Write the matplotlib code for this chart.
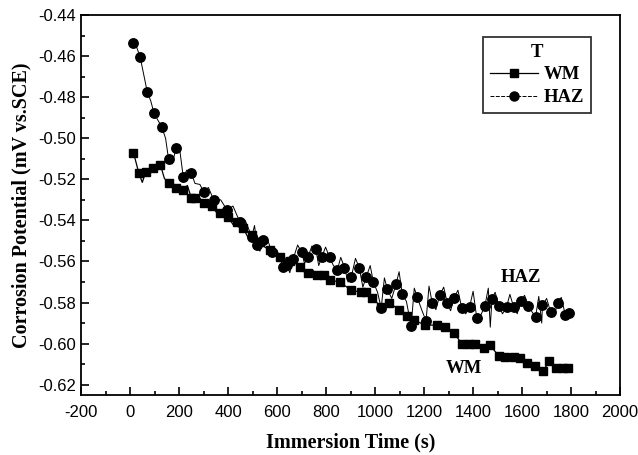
import matplotlib
matplotlib.use("Agg")
import matplotlib.pyplot as plt
from matplotlib.ticker import MultipleLocator, FormatStrFormatter

plt.rcParams["axes.unicode_minus"] = False

# WM (weld metal) readings, marked points
wm_t = [14, 36, 64, 95, 124, 157, 186, 218, 250, 267, 300, 335, 369, 401, 437, 462, 498,
        531, 571, 612, 652, 692, 726, 762, 790, 814, 855, 903, 944, 964, 989, 1025, 1058,
        1098, 1131, 1160, 1204, 1253, 1286, 1322, 1354, 1383, 1407, 1444, 1468, 1505, 1529,
        1565, 1590, 1618, 1651, 1686, 1711, 1739, 1767, 1788]
wm_e = [-0.507, -0.517, -0.5165, -0.5145, -0.513, -0.522, -0.524, -0.525, -0.529, -0.529,
        -0.5316, -0.533, -0.5365, -0.5384, -0.541, -0.5438, -0.547, -0.5505, -0.5545, -0.558,
        -0.560, -0.5627, -0.5657, -0.5666, -0.5665, -0.569, -0.570, -0.574, -0.575, -0.575,
        -0.578, -0.582, -0.580, -0.5837, -0.5866, -0.5886, -0.591, -0.591, -0.592, -0.5949,
        -0.600, -0.600, -0.600, -0.602, -0.6007, -0.606, -0.6066, -0.6066, -0.607, -0.6095,
        -0.611, -0.6133, -0.6085, -0.612, -0.612, -0.612]
# extra raw WM readings between marks
wm_raw_t = [50, 80, 110, 140, 172, 202, 234, 284, 318, 352, 385, 420, 450, 480, 515, 550,
            592, 632, 672, 710, 744]
wm_raw_e = [-0.5215, -0.5160, -0.5125, -0.5195, -0.5210, -0.5255, -0.5230, -0.5290, -0.5300,
            -0.5360, -0.5350, -0.5420, -0.5410, -0.5480, -0.5470, -0.5530, -0.5540, -0.5600,
            -0.5590, -0.5650, -0.5640]

# HAZ (heat affected zone) readings, marked points
haz_t = [11, 41, 70, 98, 129, 157, 188, 217, 250, 300, 341, 396, 449, 497, 518, 544, 579,
         624, 640, 665, 700, 726, 758, 782, 814, 846, 875, 903, 936, 964, 993, 1025, 1050,
         1086, 1111, 1147, 1172, 1208, 1233, 1264, 1294, 1322, 1354, 1386, 1415, 1448, 1477,
         1505, 1537, 1565, 1594, 1626, 1655, 1683, 1716, 1745, 1776, 1790]
haz_e = [-0.4536, -0.4603, -0.4773, -0.4879, -0.4944, -0.510, -0.5048, -0.5187, -0.517,
         -0.526, -0.530, -0.535, -0.541, -0.548, -0.552, -0.5495, -0.5555, -0.5627, -0.5617,
         -0.559, -0.5555, -0.558, -0.554, -0.558, -0.558, -0.564, -0.563, -0.5675, -0.5633,
         -0.5675, -0.570, -0.5827, -0.5735, -0.5708, -0.576, -0.5915, -0.5774, -0.589, -0.580,
         -0.5764, -0.580, -0.578, -0.5827, -0.582, -0.5876, -0.5817, -0.5783, -0.5817, -0.582,
         -0.582, -0.5793, -0.5817, -0.587, -0.5813, -0.5846, -0.580, -0.586, -0.585]
# extra raw HAZ readings (noise spikes) between marks
haz_raw_t = [25, 55, 85, 145, 172, 200, 232, 265, 285, 320, 370, 420, 470, 508, 530, 560,
             600, 632, 652, 684, 712, 742, 770, 798, 830, 860, 890, 920, 950, 980, 1010, 1038,
             1068, 1098, 1128, 1160, 1190, 1220, 1248, 1280, 1308, 1338, 1370, 1400, 1432,
             1462, 1470, 1490, 1520, 1550, 1580, 1610, 1640, 1668, 1680, 1700, 1730, 1760, 1785]
haz_raw_e = [-0.4550, -0.4685, -0.4820, -0.5000, -0.5125, -0.5030, -0.5155, -0.5220, -0.5225,
             -0.5240, -0.5300, -0.5330, -0.5400, -0.5425, -0.5550, -0.5490, -0.5545, -0.5580,
             -0.5655, -0.5520, -0.5610, -0.5525, -0.5620, -0.5530, -0.5620, -0.5580, -0.5700,
             -0.5585, -0.5725, -0.5620, -0.5750, -0.5680, -0.5780, -0.5650, -0.5795, -0.5730,
             -0.5835, -0.5720, -0.5835, -0.5725, -0.5840, -0.5740, -0.5855, -0.5745, -0.5860,
             -0.5730, -0.5920, -0.5750, -0.5855, -0.5760, -0.5855, -0.5765, -0.5845, -0.5770,
             -0.5900, -0.5780, -0.5870, -0.5775, -0.5835]

wm_line = sorted(zip(wm_t + wm_raw_t, wm_e + wm_raw_e))
haz_line = sorted(zip(haz_t + haz_raw_t, haz_e + haz_raw_e))

serif = "Liberation Serif"
sans = "Liberation Sans"

fig = plt.figure(figsize=(6.38, 4.55), dpi=100)
ax = fig.add_axes([0.127, 0.132, 0.845, 0.835])

ax.plot([p[0] for p in haz_line], [p[1] for p in haz_line], color="black", lw=0.7)
ax.plot([p[0] for p in wm_line], [p[1] for p in wm_line], color="black", lw=0.9)
ax.plot(wm_t, wm_e, color="black", ls="none", marker="s", ms=6.3)
ax.plot(haz_t, haz_e, color="black", ls="none", marker="o", ms=6.8)

# legend handles
ax.plot([], [], color="black", lw=0.9, ls="-", marker="s", ms=6, label="WM")
ax.plot([], [], color="black", lw=0.7, ls=(0, (4, 1.5)), marker="o", ms=6.5, label="HAZ")

ax.set_xlim(-200, 2000)
ax.set_ylim(-0.625, -0.44)
ax.xaxis.set_major_locator(MultipleLocator(200))
ax.xaxis.set_minor_locator(MultipleLocator(100))
ax.yaxis.set_major_locator(MultipleLocator(0.02))
ax.yaxis.set_minor_locator(MultipleLocator(0.01))
ax.yaxis.set_major_formatter(FormatStrFormatter("%.2f"))
ax.tick_params(which="both", direction="in", top=False, right=False, width=1.2)
ax.tick_params(which="major", length=6, labelsize=12)
ax.tick_params(axis="x", which="major", pad=7)
ax.tick_params(which="minor", length=3)
for lab in ax.get_xticklabels() + ax.get_yticklabels():
    lab.set_fontfamily(sans)
for s in ax.spines.values():
    s.set_linewidth(1.3)

ax.set_xlabel("Immersion Time (s)", fontfamily=serif, fontweight="bold", fontsize=14.5, labelpad=9)
ax.set_ylabel("Corrosion Potential (mV vs.SCE)", fontfamily=serif, fontweight="bold", fontsize=14.5, labelpad=5)

ax.text(1597, -0.568, "HAZ", fontfamily=serif, fontweight="bold", fontsize=13.5, ha="center", va="center")
ax.text(1362, -0.612, "WM", fontfamily=serif, fontweight="bold", fontsize=13.5, ha="center", va="center")

leg = ax.legend(title="T", loc="upper right", bbox_to_anchor=(0.946, 0.942),
                prop={"family": serif, "weight": "bold", "size": 13.5},
                frameon=True, fancybox=False, edgecolor="black", handlelength=2.6,
                borderpad=0.35, labelspacing=0.3, handletextpad=0.3, borderaxespad=0)
leg.get_title().set_fontfamily(serif)
leg.get_title().set_fontweight("bold")
leg.get_title().set_fontsize(13.5)
leg.get_frame().set_linewidth(1.3)

fig.savefig("out.png", dpi=100)
